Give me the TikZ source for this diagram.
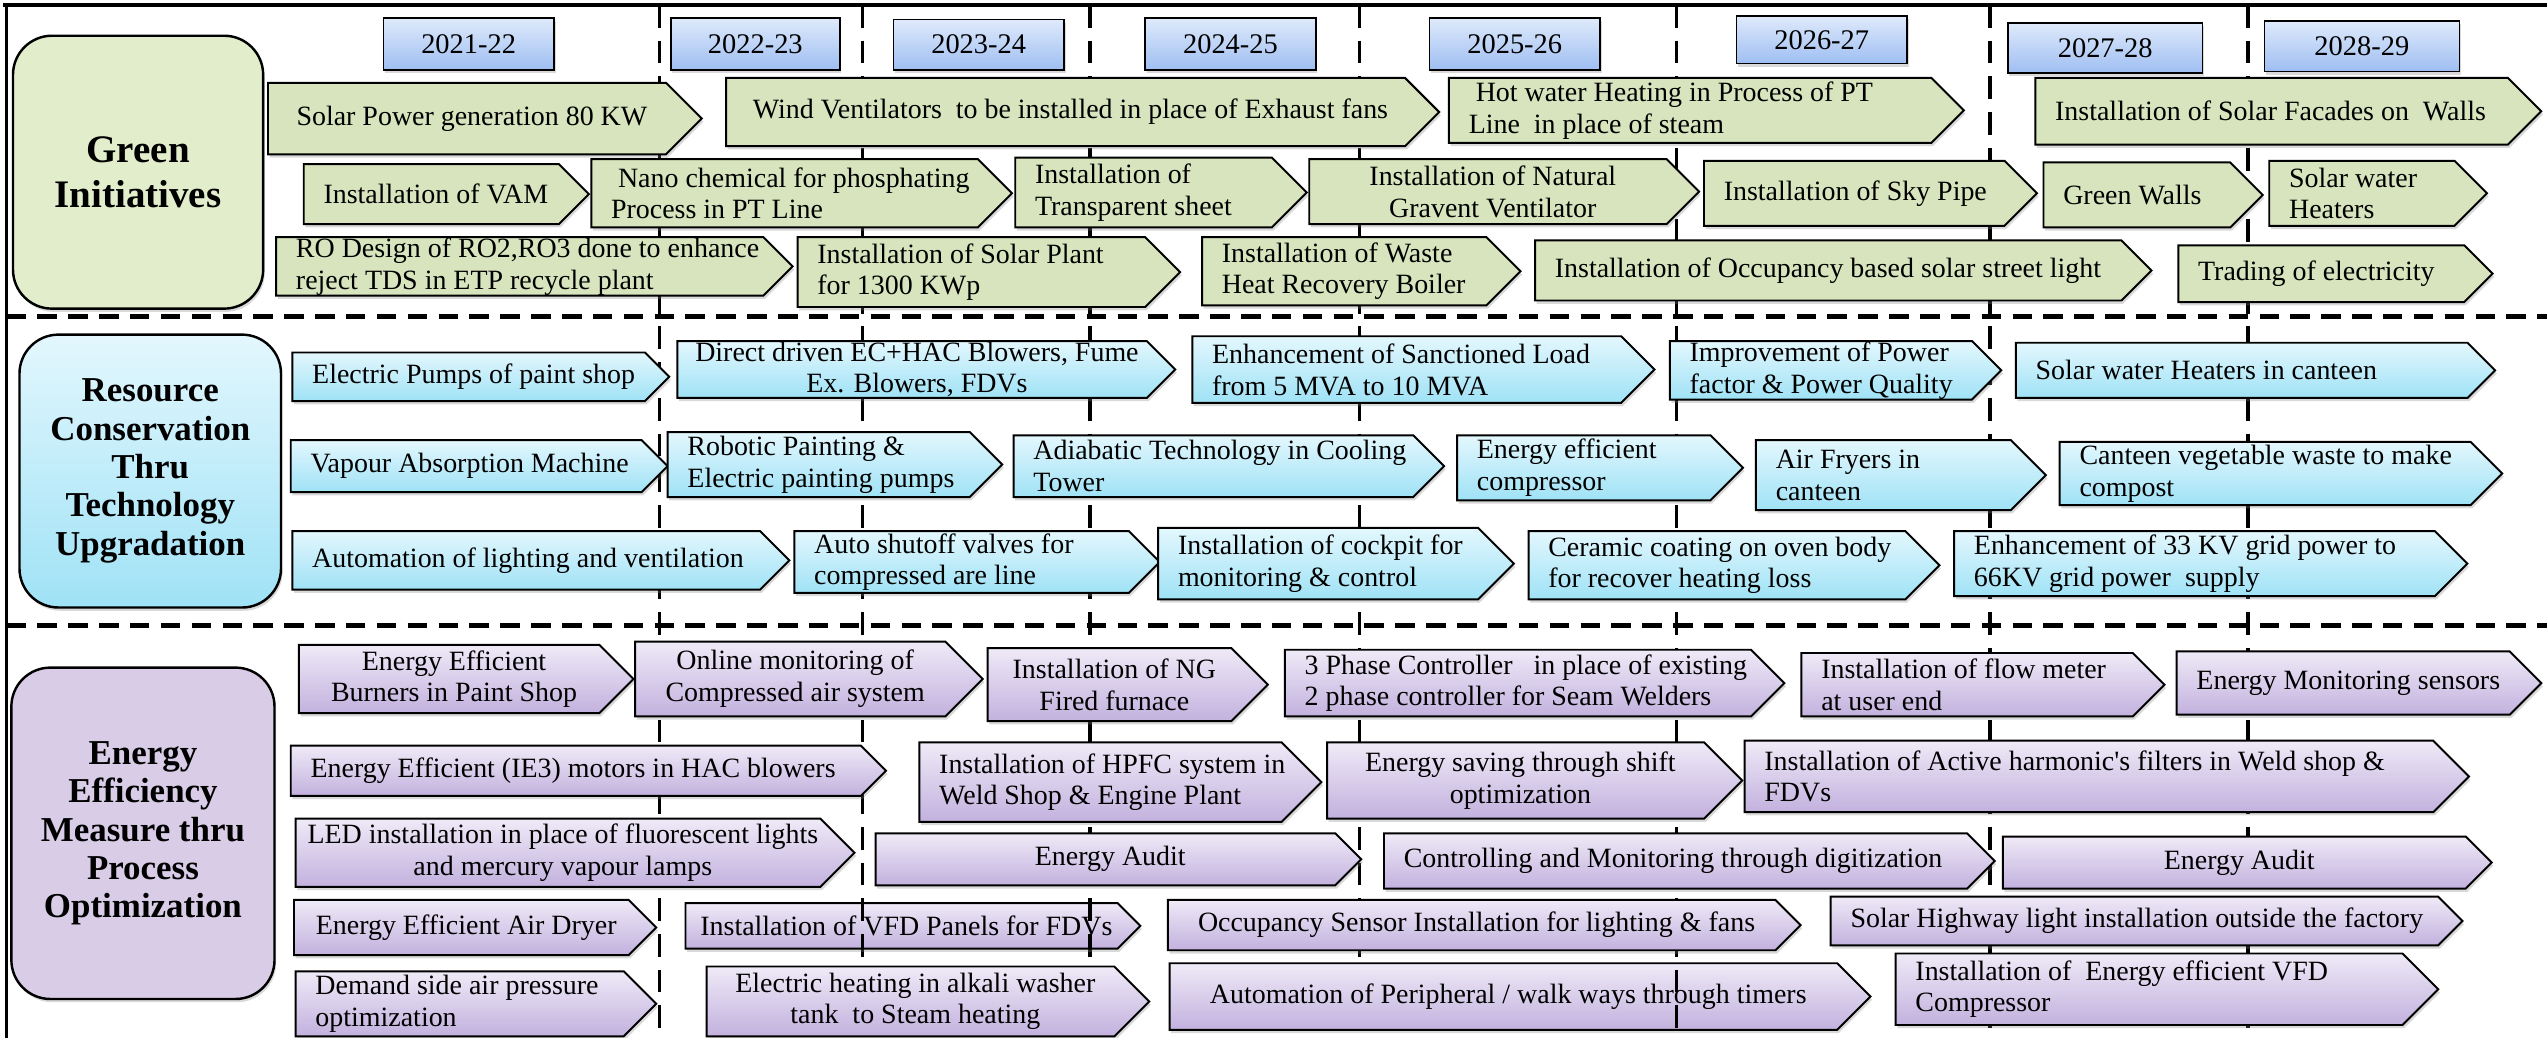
\documentclass[tikz,border=0pt]{standalone}
\usepackage{fontspec}
\setmainfont{Liberation Serif}
\usetikzlibrary{shadows}

\definecolor{greenfill}{HTML}{D7E4BD}
\definecolor{headgreen}{HTML}{E2EECB}
\definecolor{bluetop}{HTML}{E3F7FD}
\definecolor{bluebot}{HTML}{9FE2F6}
\definecolor{purptop}{HTML}{EFEAF7}
\definecolor{purpbot}{HTML}{C2B1DE}
\definecolor{headpurp}{HTML}{D8CCE6}
\definecolor{yeartop}{HTML}{DFEAFB}
\definecolor{yearbot}{HTML}{9EBEF2}

\newcommand{\bodyfont}{\fontsize{17.2}{19.5}\selectfont}
\newcommand{\yearfont}{\fontsize{17.5}{20}\selectfont}
\newcommand{\headfont}{\fontsize{21.5}{23.6}\selectfont\bfseries}

\tikzset{
  shape line/.style={draw=black, line width=1.2pt,
    drop shadow={shadow xshift=1pt, shadow yshift=-2pt, opacity=.3}},
  gitem/.style={shape line, fill=greenfill},
  bitem/.style={shape line, top color=bluetop, bottom color=bluebot},
  pitem/.style={shape line, top color=purptop, bottom color=purpbot},
  yearbox/.style={shape line, line width=1pt, top color=yeartop, bottom color=yearbot},
  headbox/.style={shape line, line width=1.5pt, rounded corners=24pt},
  itemtext/.style={font=\bodyfont, align=center, inner sep=0pt},
  lft/.style={pos=0, anchor=west, align=left},
  vline/.style={line width=2.2pt, dash pattern=on 14pt off 8pt},
  hline/.style={line width=3pt, dash pattern=on 12pt off 7pt},
}

% arrow box: [text options]{style}{name}{left}{top}{body end}{bottom}{text}
\newcommand{\initbox}[8][]{%
  \pgfmathsetmacro{\tipx}{#6+(#7-#5)/2}%
  \pgfmathsetmacro{\midy}{(#5+#7)/2}%
  \draw[#2] (#4,#5) -- (#6,#5) -- (\tipx,\midy) -- (#6,#7) -- (#4,#7) -- cycle;
  \path ({#4+12},\midy) -- ({#6-6},\midy) node[itemtext,pos=.5,#1] (#3) {#8};}

\begin{document}
\begin{tikzpicture}[x=1pt,y=-1pt]
\useasboundingbox (0,0) rectangle (1568,639);

% year dividers
\draw[vline] (406,3) -- (406,639);
\draw[vline] (531,3) -- (531,639);
\draw[vline] (671,3) -- (671,639);
\draw[vline] (837,3) -- (837,639);
\draw[vline] (1032,3) -- (1032,639);
\draw[vline] (1225,3) -- (1225,639);
\draw[vline] (1384,3) -- (1384,639);
% section separators and frame
\draw[hline] (4,195) -- (1568,195);
\draw[hline] (4,385) -- (1568,385);
\draw[line width=2.5pt] (2,3) -- (1568,3);
\draw[line width=2.2pt] (4,2) -- (4,639);

% years
\draw[yearbox] (236,11) rectangle (341,43) node[midway,font=\yearfont] (y2122) {2021-22};
\draw[yearbox] (413,11) rectangle (517,43) node[midway,font=\yearfont] (y2223) {2022-23};
\draw[yearbox] (550,12) rectangle (655,43) node[midway,font=\yearfont] (y2324) {2023-24};
\draw[yearbox] (705,11) rectangle (810,43) node[midway,font=\yearfont] (y2425) {2024-25};
\draw[yearbox] (880,11) rectangle (985,43) node[midway,font=\yearfont] (y2526) {2025-26};
\draw[yearbox] (1069,10) rectangle (1174,39) node[midway,font=\yearfont] (y2627) {2026-27};
\draw[yearbox] (1236,14) rectangle (1356,45) node[midway,font=\yearfont] (y2728) {2027-28};
\draw[yearbox] (1394,13) rectangle (1514,44) node[midway,font=\yearfont] (y2829) {2028-29};

% section headings
\draw[headbox, fill=headgreen] (8,22) rectangle (162,190)
  node[midway,align=center,font=\fontsize{24}{27.7}\selectfont\bfseries] (green) {Green\\Initiatives};
\draw[headbox, top color=bluetop, bottom color=bluebot] (12,206) rectangle (173,374)
  node[midway,align=center,font=\headfont] (resource) {Resource\\Conservation\\Thru\\Technology\\Upgradation};
\draw[headbox, fill=headpurp] (7,411) rectangle (169,615)
  node[midway,align=center,font=\headfont] (energy) {Energy\\Efficiency\\Measure thru\\Process\\Optimization};

% green initiatives
\initbox{gitem}{g1}{165}{51}{410}{95}{Solar Power generation 80 KW}
\initbox{gitem}{g2}{447}{48}{865}{90}{Wind Ventilators~ to be installed in place of Exhaust fans}
\initbox[lft]{gitem}{g3}{892}{48}{1189}{88}{~Hot water Heating in Process of PT\\Line~ in place of steam}
\initbox[lft]{gitem}{g4}{1253}{48}{1544}{89}{Installation of Solar Facades on~ Walls}
\initbox[lft]{gitem}{g5}{187}{101}{344}{138}{Installation of VAM}
\initbox[lft]{gitem}{g6}{364}{98}{602}{140}{~Nano chemical for phosphating\\Process in PT Line}
\initbox[lft]{gitem}{g7}{625}{97}{783}{140}{Installation of\\Transparent sheet}
\initbox{gitem}{g8}{806}{98}{1026}{138}{Installation of Natural\\Gravent Ventilator}
\initbox[lft]{gitem}{g9}{1049}{99}{1234}{139}{Installation of Sky Pipe}
\initbox[lft]{gitem}{g10}{1258}{100}{1373}{140}{Green Walls}
\initbox[lft]{gitem}{g11}{1397}{99}{1511}{139}{Solar water\\Heaters}
\initbox[lft]{gitem}{g12}{170}{146}{470}{182}{RO Design of RO2,RO3 done to enhance\\reject TDS in ETP recycle plant}
\initbox[lft]{gitem}{g13}{491}{146}{705}{189}{Installation of Solar Plant\\for 1300 KWp}
\initbox[lft]{gitem}{g14}{740}{146}{915}{188}{Installation of Waste\\Heat Recovery Boiler}
\initbox[lft]{gitem}{g15}{945}{148}{1306}{185}{Installation of Occupancy based solar street light}
\initbox[lft]{gitem}{g16}{1341}{151}{1517}{186}{Trading of electricity}

% resource conservation
\initbox[lft]{bitem}{b1}{180}{217}{397}{247}{Electric Pumps of paint shop}
\initbox{bitem}{b2}{417}{210}{706}{245}{Direct driven EC+HAC Blowers, Fume\\Ex. Blowers, FDVs}
\initbox[lft]{bitem}{b3}{734}{207}{998}{248}{Enhancement of Sanctioned Load\\from 5 MVA to 10 MVA}
\initbox[lft]{bitem}{b4}{1028}{210}{1214}{246}{Improvement of Power\\factor \& Power Quality}
\initbox[lft]{bitem}{b5}{1241}{211}{1519}{245}{Solar water Heaters in canteen}
\initbox[lft]{bitem}{b6}{179}{271}{395}{303}{Vapour Absorption Machine}
\initbox[lft]{bitem}{b7}{411}{266}{597}{306}{Robotic Painting \&\\Electric painting pumps}
\initbox[lft]{bitem}{b8}{624}{268}{870}{306}{Adiabatic Technology in Cooling\\Tower}
\initbox[lft]{bitem}{b9}{897}{268}{1053}{308}{Energy efficient\\compressor}
\initbox[lft]{bitem}{b10}{1081}{271}{1238}{314}{Air Fryers in\\canteen}
\initbox[lft]{bitem}{b11}{1268}{272}{1521}{311}{Canteen vegetable waste to make\\compost}
\initbox[lft]{bitem}{b12}{180}{327}{468}{363}{Automation of lighting and ventilation}
\initbox[lft]{bitem}{b13}{489}{327}{695}{365}{Auto shutoff valves for\\compressed are line}
\initbox[lft]{bitem}{b14}{713}{325}{910}{369}{Installation of cockpit for\\monitoring \& control}
\initbox[lft]{bitem}{b15}{941}{327}{1173}{369}{Ceramic coating on oven body\\for recover heating loss}
\initbox[lft]{bitem}{b16}{1203}{327}{1499}{367}{Enhancement of 33 KV grid power to\\66KV grid power~ supply}

% energy efficiency
\initbox{pitem}{p1}{184}{397}{369}{439}{Energy Efficient\\Burners in Paint Shop}
\initbox{pitem}{p2}{391}{395}{582}{441}{Online monitoring of\\Compressed air system}
\initbox{pitem}{p3}{608}{399}{758}{444}{Installation of NG\\Fired furnace}
\initbox[lft]{pitem}{p4}{791}{400}{1078}{441}{3 Phase Controller~~ in place of existing\\2 phase controller for Seam Welders}
\initbox[lft]{pitem}{p5}{1109}{402}{1313}{441}{Installation of flow meter\\at user end}
\initbox[lft]{pitem}{p6}{1340}{401}{1545}{440}{Energy Monitoring sensors}
\initbox[lft]{pitem}{p7}{179}{459}{530}{490}{Energy Efficient (IE3) motors in HAC blowers}
\initbox[lft]{pitem}{p8}{566}{457}{789}{506}{Installation of HPFC system in\\Weld Shop \& Engine Plant}
\initbox{pitem}{p9}{817}{457}{1049}{504}{Energy saving through shift\\optimization}
\initbox[lft]{pitem}{p10}{1074}{456}{1498}{500}{Installation of Active harmonic\textquotesingle s filters in Weld shop \&\\FDVs}
\initbox{pitem}{p11}{182}{504}{505}{546}{LED installation in place of fluorescent lights\\and mercury vapour lamps}
\initbox{pitem}{p12}{539}{513}{822}{545}{Energy Audit}
\initbox[lft]{pitem}{p13}{852}{513}{1211}{547}{Controlling and Monitoring through digitization}
\initbox{pitem}{p14}{1233}{515}{1518}{547}{Energy Audit}
\initbox{pitem}{p15}{181}{554}{387}{588}{Energy Efficient Air Dryer}
\initbox{pitem}{p16}{422}{556}{688}{584}{Installation of VFD Panels for FDVs}
\initbox{pitem}{p17}{719}{554}{1093}{585}{Occupancy Sensor Installation for lighting \& fans}
\initbox[lft]{pitem}{p18}{1127}{552}{1501}{582}{Solar Highway light installation outside the factory}
\initbox[lft]{pitem}{p19}{182}{598}{384}{638}{Demand side air pressure\\optimization}
\initbox{pitem}{p20}{435}{595}{686}{638}{Electric heating in alkali washer\\tank~ to Steam heating}
\initbox{pitem}{p21}{720}{593}{1131}{634}{Automation of Peripheral / walk ways through timers}
\initbox[lft]{pitem}{p22}{1167}{587}{1479}{631}{Installation of~ Energy efficient VFD\\Compressor}

% dividers showing through two boxes
\begin{scope}
\clip (422,556) rectangle (688,584);
\draw[vline] (531,3) -- (531,639);
\draw[vline] (671,3) -- (671,639);
\end{scope}
\begin{scope}
\clip (720,593) rectangle (1131,634);
\draw[vline] (1032,3) -- (1032,639);
\end{scope}

\end{tikzpicture}
\end{document}
